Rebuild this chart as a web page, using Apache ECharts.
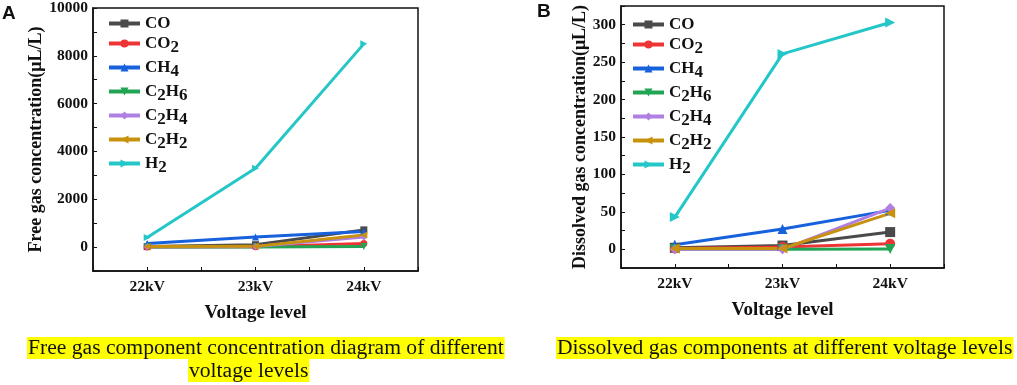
<!DOCTYPE html>
<html>
<head>
<meta charset="utf-8">
<script src="https://cdn.jsdelivr.net/npm/echarts@6/dist/echarts.min.js"></script>
<style>
  html, body { margin: 0; padding: 0; background: #fff; }
  #chart { width: 1017px; height: 385px; }
</style>
</head>
<body>
<div id="chart"></div>
<script>
  // voltage levels shared by both panels
  const voltages = [22, 23, 24];
  const categories = ['22kV', '23kV', '24kV'];
  const gases = ['CO', 'CO2', 'CH4', 'C2H6', 'C2H4', 'C2H2', 'H2'];

  // panel A: free gas concentration (uL/L)
  const freeCO   = [20, 100, 720];
  const freeCO2  = [0, 10, 150];
  const freeCH4  = [150, 420, 650];
  const freeC2H6 = [0, 0, 20];
  const freeC2H4 = [10, 20, 420];
  const freeC2H2 = [20, 30, 510];
  const freeH2   = [400, 3300, 8500];

  // panel B: dissolved gas concentration (uL/L)
  const dissCO   = [2, 5, 23];
  const dissCO2  = [1, 3, 7.5];
  const dissCH4  = [6, 27, 52];
  const dissC2H6 = [0, 0, 0.5];
  const dissC2H4 = [0, 0, 55];
  const dissC2H2 = [1, 1, 48];
  const dissH2   = [43, 261, 303];

  const freeData = [freeCO, freeCO2, freeCH4, freeC2H6, freeC2H4, freeC2H2, freeH2];
  const dissData = [dissCO, dissCO2, dissCH4, dissC2H6, dissC2H4, dissC2H2, dissH2];

  const colors = ['#4a4a4a', '#ee3535', '#1762dc', '#22a455', '#b07fe2', '#c8920e', '#24c6c8'];
  const symbols = ['rect', 'circle', 'triangle', 'triangle', 'diamond', 'triangle', 'triangle'];
  const rotates = [0, 0, 0, 180, 0, 90, -90];

  const serif = '"Liberation Serif", "Times New Roman", serif';

  function pairs(vals) {
    return vals.map((v, i) => [voltages[i], v]);
  }

  function makeSeries(data, gridIdx, symSize) {
    return data.map((vals, i) => ({
      name: gases[i],
      type: 'line',
      xAxisIndex: gridIdx,
      yAxisIndex: gridIdx,
      data: pairs(vals),
      symbol: symbols[i],
      symbolRotate: rotates[i],
      symbolSize: symSize,
      showAllSymbol: true,
      animation: false,
      color: colors[i],
      lineStyle: { width: 3, color: colors[i] },
      itemStyle: { color: colors[i] }
    }));
  }

  function xAxis(gridIdx) {
    return {
      type: 'value',
      gridIndex: gridIdx,
      min: 21.5,
      max: 24.5,
      interval: 0.5,
      name: 'Voltage level',
      nameLocation: 'middle',
      nameGap: 33,
      nameTextStyle: { fontFamily: serif, fontWeight: 'bold', fontSize: 19, color: '#111' },
      axisLine: { onZero: false, lineStyle: { color: '#111', width: 1.5 } },
      axisTick: { inside: true, length: 4, lineStyle: { color: '#111' } },
      axisLabel: {
        interval: 0,
        margin: 8,
        fontFamily: serif, fontWeight: 'bold', fontSize: 15.5, color: '#111',
        formatter: v => {
          const i = voltages.indexOf(v);
          return i >= 0 ? categories[i] : '';
        }
      },
      splitLine: { show: false }
    };
  }

  function yAxis(gridIdx, min, max, step, labelStep, name, gap) {
    return {
      type: 'value',
      gridIndex: gridIdx,
      min: min,
      max: max,
      interval: step,
      name: name,
      nameLocation: 'middle',
      nameGap: gap,
      nameTextStyle: { fontFamily: serif, fontWeight: 'bold', fontSize: 18, color: '#111' },
      axisLine: { show: true, onZero: false, lineStyle: { color: '#111', width: 1.5 } },
      axisTick: { inside: true, length: 4, lineStyle: { color: '#111' } },
      axisLabel: {
        interval: 0,
        margin: 5,
        fontFamily: serif, fontWeight: 'bold', fontSize: 15.5, color: '#111',
        formatter: v => (Math.round(v) % labelStep === 0 ? String(Math.round(v)) : '')
      },
      splitLine: { show: false }
    };
  }

  function legend(left, top) {
    return {
      orient: 'vertical',
      left: left,
      top: top,
      padding: 0,
      itemWidth: 31,
      itemHeight: 10,
      itemGap: 3,
      data: gases,
      selectedMode: false,
      lineStyle: { width: 4 },
      formatter: n => n.replace(/(\d)/g, '{s|$1}'),
      textStyle: {
        fontFamily: serif, fontWeight: 'bold', fontSize: 17, color: '#111',
        rich: {
          s: { fontFamily: serif, fontWeight: 'bold', fontSize: 17, color: '#111', padding: [8, 0, 0, 0] }
        }
      }
    };
  }

  const chart = echarts.init(document.getElementById('chart'), null, { renderer: 'canvas' });
  chart.setOption({
    animation: false,
    backgroundColor: '#fff',
    grid: [
      { left: 93, top: 7, width: 325, height: 264, show: true, borderColor: '#111', borderWidth: 1.5, backgroundColor: 'transparent' },
      { left: 621, top: 6, width: 323, height: 262, show: true, borderColor: '#111', borderWidth: 1.5, backgroundColor: 'transparent' }
    ],
    xAxis: [xAxis(0), xAxis(1)],
    yAxis: [
      yAxis(0, -1000, 10000, 1000, 2000, 'Free gas concentration(μL/L)', 47),
      yAxis(1, -25, 325, 25, 50, 'Dissolved gas concentration(μL/L)', 32)
    ],
    legend: [legend(107, 15), legend(631, 16)],
    series: makeSeries(freeData, 0, 7).concat(makeSeries(dissData, 1, 10)),
    graphic: [
      { type: 'text', left: 2, top: 4, style: { text: 'A', font: 'bold 19px "Liberation Sans", Arial, sans-serif', fill: '#111' } },
      { type: 'text', left: 537, top: 2, style: { text: 'B', font: 'bold 19px "Liberation Sans", Arial, sans-serif', fill: '#111' } },
      { type: 'text', left: 27, top: 337, style: { text: 'Free gas component concentration diagram of different', font: '21.6px ' + serif, fill: '#111', backgroundColor: '#ffff00', padding: [1, 1, 0, 1], lineHeight: 21 } },
      { type: 'text', left: 188, top: 359, style: { text: 'voltage levels', font: '21.6px ' + serif, fill: '#111', backgroundColor: '#ffff00', padding: [1, 1, 0, 1], lineHeight: 22 } },
      { type: 'text', left: 556, top: 337, style: { text: 'Dissolved gas components at different voltage levels', font: '21.6px ' + serif, fill: '#111', backgroundColor: '#ffff00', padding: [1, 1, 0, 1], lineHeight: 21 } }
    ]
  });
</script>
</body>
</html>
